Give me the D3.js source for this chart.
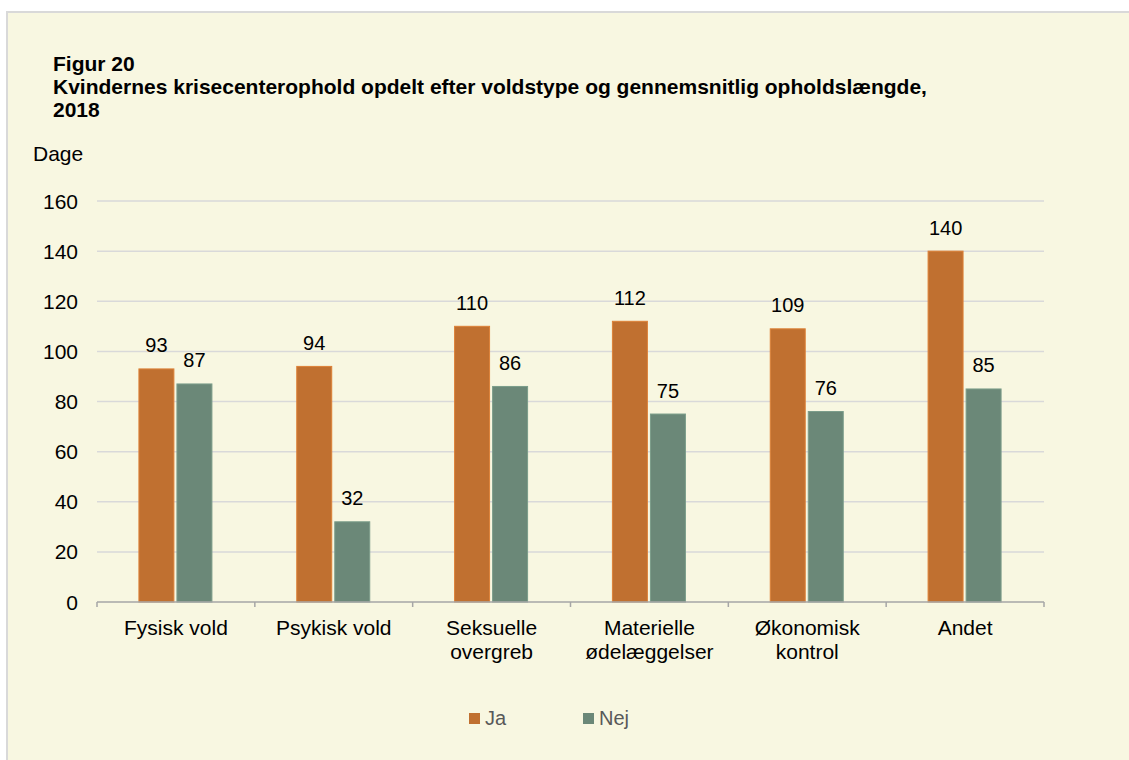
<!DOCTYPE html>
<html>
<head>
<meta charset="utf-8">
<script src="https://cdn.jsdelivr.net/npm/d3@7"></script>
<style>
  body { margin: 0; background: #fff; }
  svg { display: block; font-family: "Liberation Sans", Arial, sans-serif; }
</style>
</head>
<body>
<svg width="1129" height="760"></svg>
<script>
var categories = [["Fysisk vold"], ["Psykisk vold"], ["Seksuelle", "overgreb"], ["Materielle", "ødelæggelser"], ["Økonomisk", "kontrol"], ["Andet"]];
var ja = [93, 94, 110, 112, 109, 140];
var nej = [87, 32, 86, 75, 76, 85];
var seriesNames = ["Ja", "Nej"];
var yTicks = [0, 20, 40, 60, 80, 100, 120, 140, 160];
var colors = ["#c07030", "#6b8878"];

var svg = d3.select("svg");

// panel
svg.append("rect")
  .attr("x", 7).attr("y", 12)
  .attr("width", 1130).attr("height", 760)
  .attr("fill", "#f8f7e1")
  .attr("stroke", "#d9d9d9")
  .attr("stroke-width", 2);

var title = svg.append("text")
  .attr("x", 53).attr("y", 71)
  .attr("font-weight", "bold")
  .attr("font-size", 21)
  .attr("fill", "#000");
["Figur 20", "Kvindernes krisecenterophold opdelt efter voldstype og gennemsnitlig opholdslængde,", "2018"]
  .forEach(function(t, i) {
    title.append("tspan").attr("x", 53).attr("dy", i ? 23 : 0).text(t);
  });

svg.append("text")
  .attr("x", 33).attr("y", 161)
  .attr("font-size", 21)
  .text("Dage");

var margin = { left: 97, right: 1044, top: 201, bottom: 602 };

var x = d3.scaleBand()
  .domain(d3.range(categories.length))
  .range([margin.left, margin.right]);

var y = d3.scaleLinear()
  .domain([0, 160])
  .range([margin.bottom, margin.top]);

var xs = d3.scaleBand()
  .domain([0, 1])
  .range([0, 73])
  .paddingInner(0.08);

// gridlines
svg.append("g")
  .selectAll("line")
  .data(yTicks.filter(function(d) { return d > 0; }))
  .join("line")
  .attr("x1", margin.left).attr("x2", margin.right)
  .attr("y1", function(d) { return y(d); })
  .attr("y2", function(d) { return y(d); })
  .attr("stroke", "#d9d9d9")
  .attr("stroke-width", 1.5);

// y labels
svg.append("g")
  .selectAll("text")
  .data(yTicks)
  .join("text")
  .attr("x", 78)
  .attr("y", function(d) { return y(d) + 7.5; })
  .attr("text-anchor", "end")
  .attr("font-size", 21)
  .text(function(d) { return d; });

// bars
var series = [ja, nej];
var groups = svg.append("g")
  .selectAll("g")
  .data(categories)
  .join("g")
  .attr("transform", function(d, i) {
    return "translate(" + (x(i) + x.bandwidth() / 2 - 37) + ",0)";
  });

groups.each(function(c, i) {
  var g = d3.select(this);
  series.forEach(function(s, k) {
    g.append("rect")
      .attr("x", xs(k))
      .attr("width", xs.bandwidth())
      .attr("y", y(s[i]))
      .attr("height", y(0) - y(s[i]))
      .attr("fill", colors[k])
      .attr("stroke", d3.color(colors[k]).brighter(0.4))
      .attr("stroke-width", 1);
    g.append("text")
      .attr("x", xs(k) + xs.bandwidth() / 2)
      .attr("y", y(s[i]) - 16.5)
      .attr("text-anchor", "middle")
      .attr("font-size", 20)
      .text(s[i]);
  });
});

// x axis
var ax = svg.append("g");
ax.append("line")
  .attr("x1", margin.left).attr("x2", margin.right)
  .attr("y1", y(0)).attr("y2", y(0))
  .attr("stroke", "#a6a6a6").attr("stroke-width", 1.5);
ax.selectAll("line.tick")
  .data(d3.range(categories.length + 1))
  .join("line")
  .attr("class", "tick")
  .attr("x1", function(d) { return margin.left + d * x.step(); })
  .attr("x2", function(d) { return margin.left + d * x.step(); })
  .attr("y1", y(0)).attr("y2", y(0) + 5)
  .attr("stroke", "#a6a6a6").attr("stroke-width", 1.5);

ax.selectAll("text")
  .data(categories)
  .join("text")
  .attr("font-size", 21)
  .each(function(d, i) {
    var t = d3.select(this);
    d.forEach(function(line, j) {
      t.append("tspan")
        .attr("x", x(i) + x.bandwidth() / 2)
        .attr("y", 635 + j * 24)
        .attr("text-anchor", "middle")
        .text(line);
    });
  });

// legend
var legend = svg.append("g")
  .selectAll("g")
  .data(seriesNames)
  .join("g")
  .attr("transform", function(d, i) { return "translate(" + (469 + i * 114) + ",713)"; });
legend.append("rect")
  .attr("width", 11).attr("height", 11)
  .attr("fill", function(d, i) { return colors[i]; });
legend.append("text")
  .attr("x", 16).attr("y", 12)
  .attr("font-size", 20)
  .attr("fill", "#595959")
  .text(function(d) { return d; });
</script>
</body>
</html>
